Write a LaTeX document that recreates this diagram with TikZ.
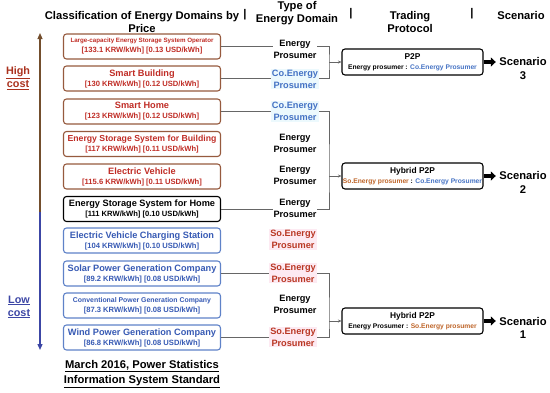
\documentclass[tikz,border=0pt]{standalone}
\usepackage{fontspec}
\setmainfont{Liberation Sans}
\usetikzlibrary{arrows.meta}
\definecolor{boxbrown}{RGB}{150,90,62}
\definecolor{txtred}{RGB}{192,45,38}
\definecolor{costred}{RGB}{170,50,30}
\definecolor{arrbrown}{RGB}{115,78,45}
\definecolor{arrblue}{RGB}{60,70,165}
\definecolor{boxblue}{RGB}{95,130,200}
\definecolor{txtblue}{RGB}{55,90,180}
\definecolor{coblue}{RGB}{68,114,196}
\definecolor{cofill}{RGB}{236,249,253}
\definecolor{sored}{RGB}{185,55,35}
\definecolor{sofill}{RGB}{253,234,242}
\definecolor{soorange}{RGB}{190,100,40}
\newcommand{\fs}[2]{\fontsize{#1}{#2}\selectfont\bfseries}
\begin{document}
\begin{tikzpicture}[x=1pt,y=-1pt,every node/.style={font=\fs{9.2}{10}},
  costbox/.style={draw,rounded corners=3pt,minimum width=157pt,minimum height=25pt,inner sep=0pt,
    align=center,line width=1.1pt,fill=white},
  hibox/.style={costbox,draw=boxbrown,text=txtred},
  midbox/.style={costbox,draw=black,text=black},
  lobox/.style={costbox,draw=boxblue,text=txtblue},
  dtype/.style={align=center,fill=white,inner sep=1pt,font=\fs{9.2}{12}},
  codtype/.style={dtype,text=coblue,fill=cofill},
  sodtype/.style={dtype,text=sored,fill=sofill},
  proto/.style={draw,rounded corners=3pt,minimum width=141pt,minimum height=26pt,inner sep=0pt,
    align=center,line width=1.1pt,fill=white},
  head/.style={align=center,font=\fs{11.2}{13}},
  feed/.style={draw=black!60,line width=0.8pt},
  push/.style={feed,-{Stealth[length=3.5pt,width=3pt]}},
  fat/.style={line width=3.4pt,-{Triangle[length=5pt,width=9pt]}}]
\useasboundingbox (0,0) rectangle (550,392);
% headers
\node[head] (hclass) at (142,21.5) {Classification of Energy Domains by\\Price};
\node[head] (hsep1) at (245,15) {|};
\node[head] (htype) at (297,13.5) {Type of\\Energy Domain};
\node[head] (hsep2) at (351,14) {|};
\node[head] (htrade) at (410,21.5) {Trading\\Protocol};
\node[head] (hsep3) at (472,14) {|};
\node[head] (hscen) at (521,15) {Scenario};
% cost axis
\coordinate (ctop) at (40,33);
\coordinate (cmid) at (40,212);
\coordinate (cbot) at (40,350);
\draw[arrbrown,line width=1.2pt,-{Triangle[length=6pt,width=5pt]}] (cmid) -- (ctop);
\draw[arrblue,line width=1.2pt,-{Triangle[length=6pt,width=5pt]}] (cmid) -- (cbot);
\node[costred,align=center,font=\fs{10.8}{13}] (high) at (18,78) {\underline{High}\\\underline{cost}};
\node[arrblue,align=center,font=\fs{10.8}{13}] (low) at (19,307) {\underline{Low}\\\underline{cost}};
% energy domains by price
\node[hibox] (lcess) at (142,46.5) {{\fs{6.2}{9}Large-capacity Energy Storage System Operator}\\{\fs{7.6}{9}[133.1 KRW/kWh] [0.13 USD/kWh]}};
\node[hibox] (sbld) at (142,78.5) {Smart Building\\{\fs{7.6}{9}[130 KRW/kWh] [0.12 USD/kWh]}};
\node[hibox] (shome) at (142,111.5) {Smart Home\\{\fs{7.6}{9}[123 KRW/kWh] [0.12 USD/kWh]}};
\node[hibox] (essbld) at (142,144) {{\fs{8.7}{10}Energy Storage System for Building}\\{\fs{7.6}{9}[117 KRW/kWh] [0.11 USD/kWh]}};
\node[hibox] (ev) at (142,176.5) {Electric Vehicle\\{\fs{7.6}{9}[115.6 KRW/kWh] [0.11 USD/kWh]}};
\node[midbox] (esshome) at (142,209) {Energy Storage System for Home\\{\fs{7.6}{9}[111 KRW/kWh] [0.10 USD/kWh]}};
\node[lobox] (evcs) at (142,240.5) {Electric Vehicle Charging Station\\{\fs{7.6}{9}[104 KRW/kWh] [0.10 USD/kWh]}};
\node[lobox] (solar) at (142,273.5) {Solar Power Generation Company\\{\fs{7.6}{9}[89.2 KRW/kWh] [0.08 USD/kWh]}};
\node[lobox] (conv) at (142,305.5) {{\fs{6.9}{9}Conventional Power Generation Company}\\{\fs{7.6}{9}[87.3 KRW/kWh] [0.08 USD/kWh]}};
\node[lobox] (wind) at (142,337.5) {Wind Power Generation Company\\{\fs{7.6}{9}[86.8 KRW/kWh] [0.08 USD/kWh]}};
\node[align=center,font=\fs{11.2}{15}] (src) at (142,374) {\underline{March 2016, Power Statistics}\\\underline{Information System Standard}};
% trading protocols
\node[proto] (p2p) at (412.5,62) {{\fs{8.4}{10}P2P}\\{\fs{6.7}{8}Energy prosumer : \textcolor{coblue}{Co.Energy Prosumer}}};
\node[proto] (hyb2) at (412.5,176) {{\fs{8.4}{10}Hybrid P2P}\\{\fs{6.7}{8}\textcolor{soorange}{So.Energy prosumer} : \textcolor{coblue}{Co.Energy Prosumer}}};
\node[proto] (hyb1) at (412.5,321) {{\fs{8.4}{10}Hybrid P2P}\\{\fs{6.7}{8}Energy Prosumer : \textcolor{soorange}{So.Energy prosumer}}};
\coordinate (brk3) at (329,62);
\coordinate (brk2) at (329,176);
\coordinate (brk1) at (329,321);
\draw[feed] (lcess.east) -| (brk3) |- (sbld.east);
\draw[feed] (shome.east) -| (brk2) |- (esshome.east);
\draw[feed] (solar.east) -| (brk1) |- (wind.east);
\draw[push] (brk3) -- (p2p.west);
\draw[push] (brk2) -- (hyb2.west);
\draw[push] (brk1) -- (hyb1.west);
% types of energy domain
\node[dtype] (t1) at (295,49) {Energy\\Prosumer};
\node[codtype] (t2) at (295,79) {Co.Energy\\Prosumer};
\node[codtype] (t3) at (295,111.5) {Co.Energy\\Prosumer};
\node[dtype] (t4) at (295,143) {Energy\\Prosumer};
\node[dtype] (t5) at (295,175.5) {Energy\\Prosumer};
\node[dtype] (t6) at (295,208.5) {Energy\\Prosumer};
\node[sodtype] (t7) at (293,239.5) {So.Energy\\Prosumer};
\node[sodtype] (t8) at (293,273) {So.Energy\\Prosumer};
\node[dtype] (t9) at (295,304) {Energy\\Prosumer};
\node[sodtype] (t10) at (293,337) {So.Energy\\Prosumer};
% scenarios
\node[head,font=\fs{11.2}{13.5}] (sc3) at (523,68.5) {Scenario\\3};
\node[head,font=\fs{11.2}{13.5}] (sc2) at (523,182.5) {Scenario\\2};
\node[head,font=\fs{11.2}{13.5}] (sc1) at (523,328) {Scenario\\1};
\draw[fat] (p2p.east) -- (p2p.east -| sc3.west);
\draw[fat] (hyb2.east) -- (hyb2.east -| sc2.west);
\draw[fat] (hyb1.east) -- (hyb1.east -| sc1.west);
\end{tikzpicture}
\end{document}
